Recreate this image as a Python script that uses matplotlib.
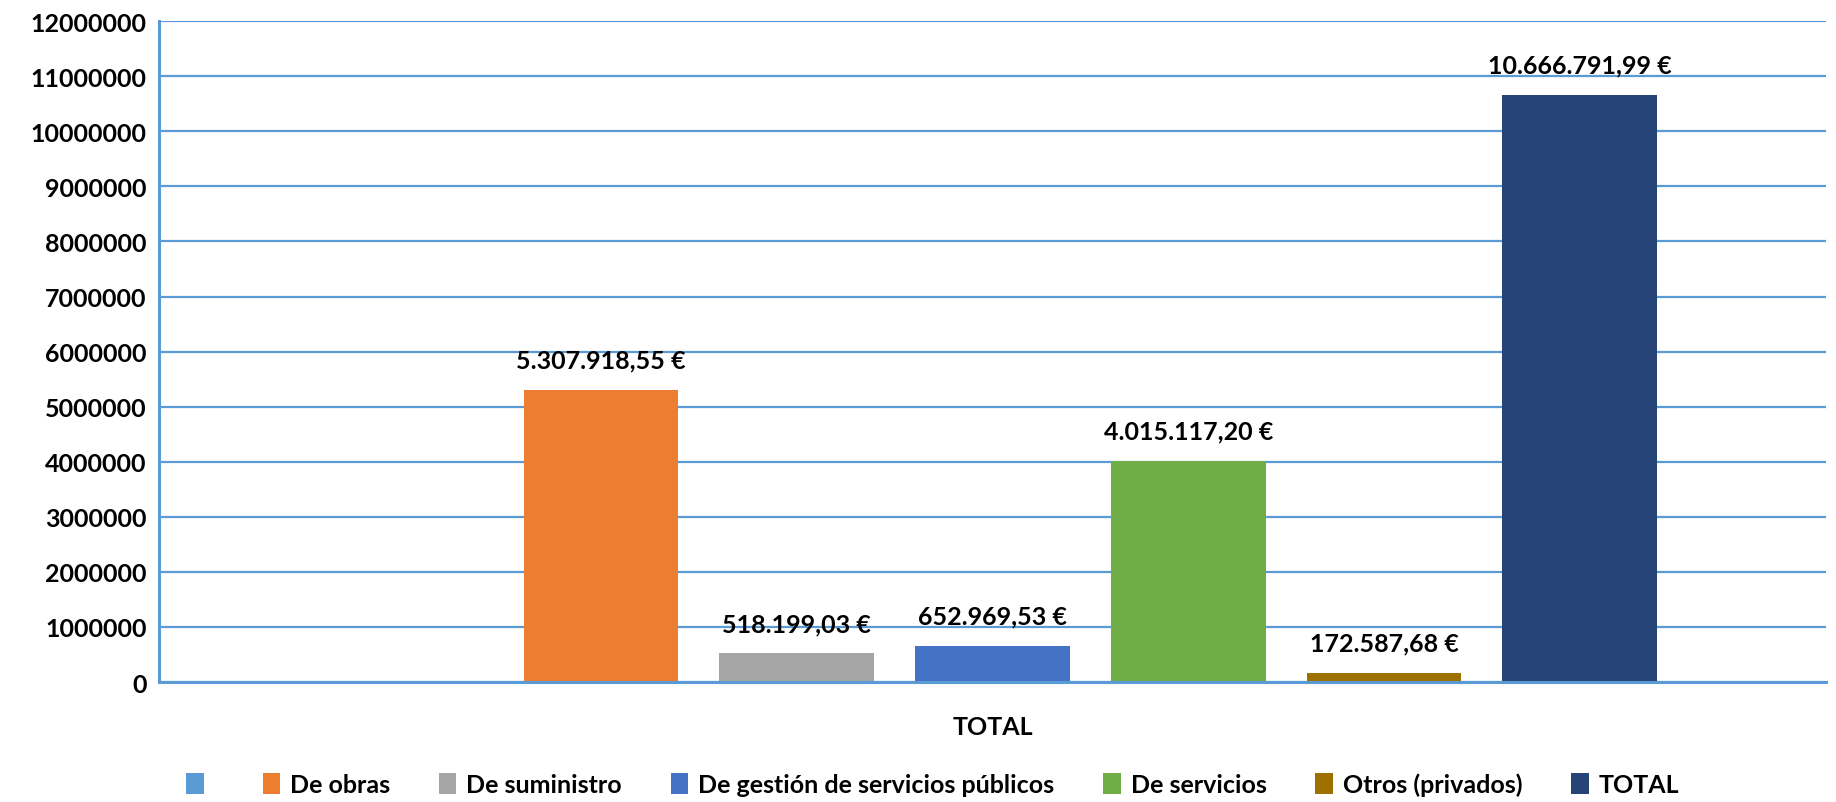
import numpy as np
import matplotlib.pyplot as plt
from matplotlib.patches import Patch
from matplotlib.ticker import FixedLocator

plt.rcParams['font.family'] = ['Lato', 'DejaVu Sans']
plt.rcParams['font.weight'] = 'bold'

# data
category = 'TOTAL'
series = ['', 'De obras', 'De suministro', 'De gestión de servicios públicos',
          'De servicios', 'Otros (privados)', 'TOTAL']
values = [0, 5307918.55, 518199.03, 652969.53, 4015117.20, 172587.68, 10666791.99]
labels = ['', '5.307.918,55 €', '518.199,03 €', '652.969,53 €',
          '4.015.117,20 €', '172.587,68 €', '10.666.791,99 €']
colors = ['#5B9BD5', '#ED7D31', '#A5A5A5', '#4472C4', '#70AD47', '#9E7000', '#264478']
yticks = np.arange(0, 12000001, 1000000)

grid_col = '#5B9BD5'
fs = 18

fig = plt.figure(figsize=(18.36, 8.03), dpi=100)
ax = fig.add_axes([0.0866, 0.1494, 0.908, 0.823])

n = len(series)
pitch = 0.1174
width = 0.0928
xs = 0.5 + (np.arange(n) - (n - 1) / 2) * pitch

for i in range(n):
    ax.bar(xs[i], values[i], width=width, color=colors[i], zorder=3)
    if labels[i]:
        ax.annotate(labels[i], (xs[i], values[i]), xytext=(0, 30),
                    textcoords='offset pixels', ha='center', va='center',
                    fontsize=fs, fontweight='bold', color='black', zorder=4)

ax.set_xlim(0, 1)
ax.set_ylim(0, 12000000)
ax.yaxis.set_major_locator(FixedLocator(yticks))
ax.set_yticklabels([str(int(v)) for v in yticks], fontsize=fs, fontweight='bold')
ax.set_xticks([0.5])
ax.set_xticklabels([category], fontsize=fs, fontweight='bold')
ax.tick_params(axis='both', length=0)
ax.tick_params(axis='y', pad=9)
ax.tick_params(axis='x', pad=24)

ax.grid(axis='y', color=grid_col, lw=1.6, zorder=1)
for s in ['top', 'right']:
    ax.spines[s].set_visible(False)
for s in ['left', 'bottom']:
    ax.spines[s].set_color(grid_col)
    ax.spines[s].set_linewidth(2.2)
    ax.spines[s].set_zorder(5)

handles = [Patch(facecolor=c, edgecolor='none') for c in colors]
fig.legend(handles, series, loc='center', bbox_to_anchor=(0.508, 0.022),
           ncol=n, frameon=False, prop={'size': fs, 'weight': 'bold'},
           handlelength=0.7, handleheight=0.9, handletextpad=0.4,
           columnspacing=1.95)

fig.savefig('out.png', dpi=100)
